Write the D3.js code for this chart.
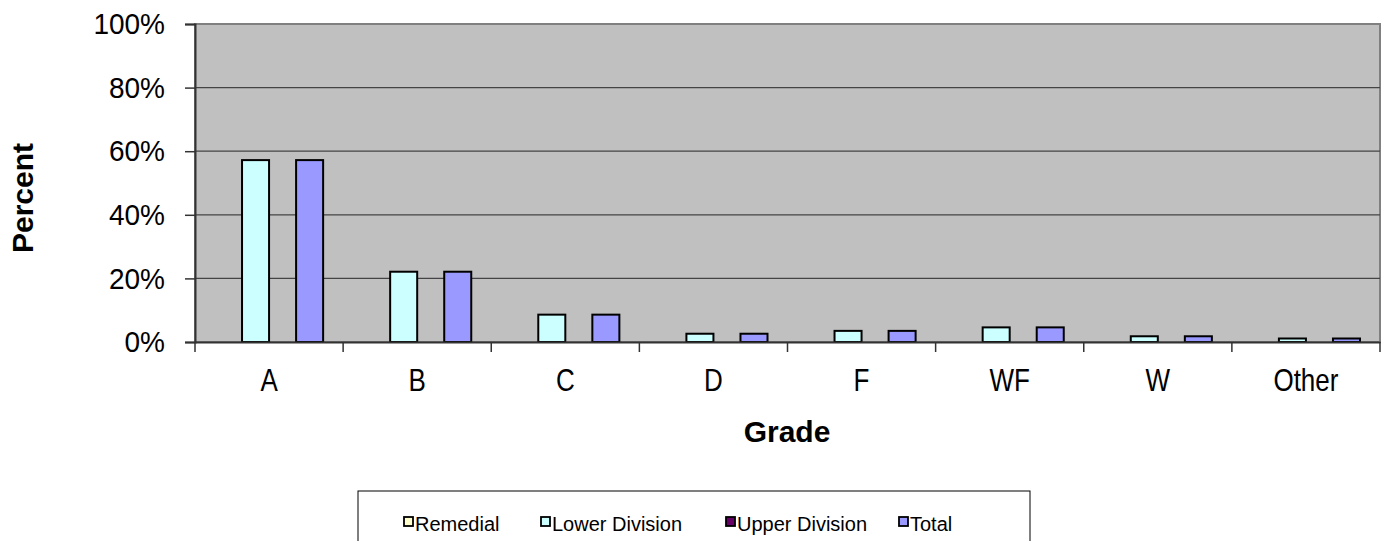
<!DOCTYPE html>
<html>
<head>
<meta charset="utf-8">
<script src="https://cdn.jsdelivr.net/npm/d3@7"></script>
<style>
  html, body { margin: 0; padding: 0; background: #fff; }
  svg text { font-family: "Liberation Sans", Arial, sans-serif; fill: #000; }
</style>
</head>
<body>
<svg id="chart"></svg>
<script>
// Grades on the x axis
const grades = ["A", "B", "C", "D", "F", "WF", "W", "Other"];
// Series (percent of students by grade)
const seriesNames = ["Remedial", "Lower Division", "Upper Division", "Total"];
const remedial = [0, 0, 0, 0, 0, 0, 0, 0];
const lowerDivision = [57.2, 22.1, 8.6, 2.6, 3.5, 4.6, 1.8, 1.1];
const upperDivision = [0, 0, 0, 0, 0, 0, 0, 0];
const total = [57.2, 22.1, 8.6, 2.6, 3.5, 4.6, 1.8, 1.1];
const yTicks = [0, 20, 40, 60, 80, 100];

const seriesColors = {
    "Remedial": "#ffffcc",
    "Lower Division": "#ccffff",
    "Upper Division": "#660066",
    "Total": "#9999ff"
};

const width = 1382;
const height = 541;
const plot = { left: 195, right: 1380, top: 24, bottom: 342 };

const svg = d3.select("#chart").attr("width", width).attr("height", height);

const x = d3.scaleBand().domain(grades).range([plot.left, plot.right]);
const xInner = d3.scaleBand().domain(seriesNames).range([0, x.bandwidth()]).paddingOuter(0.74);
const y = d3.scaleLinear().domain([0, 100]).range([plot.bottom, plot.top]);

// plot background
svg.append("rect")
    .attr("x", plot.left).attr("y", plot.top)
    .attr("width", plot.right - plot.left).attr("height", plot.bottom - plot.top)
    .attr("fill", "#c0c0c0")
    .attr("stroke", "#808080").attr("stroke-width", 2);

// gridlines
svg.append("g")
    .selectAll("line")
    .data(yTicks.filter(d => d > 0 && d < 100))
    .join("line")
    .attr("x1", plot.left).attr("x2", plot.right)
    .attr("y1", d => y(d)).attr("y2", d => y(d))
    .attr("stroke", "#444").attr("stroke-width", 1.2);

// bars
const rows = grades.map((g, i) => ({
    grade: g,
    values: [
        { name: "Remedial", v: remedial[i] },
        { name: "Lower Division", v: lowerDivision[i] },
        { name: "Upper Division", v: upperDivision[i] },
        { name: "Total", v: total[i] }
    ]
}));

svg.append("g")
    .selectAll("g")
    .data(rows)
    .join("g")
    .attr("transform", d => `translate(${x(d.grade)},0)`)
    .selectAll("rect")
    .data(d => d.values.filter(s => s.v > 0))
    .join("rect")
    .attr("x", d => xInner(d.name))
    .attr("y", d => y(d.v))
    .attr("width", xInner.bandwidth())
    .attr("height", d => y(0) - y(d.v))
    .attr("fill", d => seriesColors[d.name])
    .attr("stroke", "#000").attr("stroke-width", 2);

// y axis
const yAxis = svg.append("g")
    .attr("transform", `translate(${plot.left},0)`)
    .call(d3.axisLeft(y).tickValues(yTicks).tickFormat(d => d + "%").tickSize(10).tickPadding(20));
yAxis.select(".domain").attr("stroke", "#333").attr("stroke-width", 2);
yAxis.selectAll(".tick line").attr("stroke", "#333").attr("stroke-width", 1.5);
yAxis.selectAll(".tick text")
    .attr("font-size", 28)
    .attr("font-family", "Liberation Sans, Arial, sans-serif")
    .attr("transform", "scale(1,1.08)")
    .attr("y", 0);

// x axis (labels a little taller than wide, as in the original)
const xAxis = svg.append("g")
    .attr("transform", `translate(0,${plot.bottom})`)
    .call(d3.axisBottom(x).tickSize(0));
xAxis.select(".domain").attr("stroke", "#333").attr("stroke-width", 2);
xAxis.selectAll(".tick text")
    .attr("font-size", 26)
    .attr("font-family", "Liberation Sans, Arial, sans-serif")
    .attr("y", 22)
    .attr("transform", "scale(1,1.22)");

// x tick marks between categories
svg.append("g")
    .selectAll("line")
    .data(grades.map(g => x(g)).concat([plot.right]))
    .join("line")
    .attr("x1", d => d).attr("x2", d => d)
    .attr("y1", plot.bottom).attr("y2", plot.bottom + 10)
    .attr("stroke", "#333").attr("stroke-width", 1.5);

// axis titles
svg.append("text")
    .attr("x", 787).attr("y", 442)
    .attr("text-anchor", "middle")
    .attr("font-size", 30).attr("font-weight", "bold")
    .text("Grade");

svg.append("text")
    .attr("transform", `translate(33,198) rotate(-90)`)
    .attr("text-anchor", "middle")
    .attr("font-size", 30).attr("font-weight", "bold")
    .text("Percent");

// legend
const legendBox = { x: 358, y: 491, w: 672, h: 60 };
svg.append("rect")
    .attr("x", legendBox.x).attr("y", legendBox.y)
    .attr("width", legendBox.w).attr("height", legendBox.h)
    .attr("fill", "#fff").attr("stroke", "#000").attr("stroke-width", 1);

const legendX = [404, 541, 726, 899];
const legend = svg.append("g")
    .selectAll("g")
    .data(seriesNames)
    .join("g")
    .attr("transform", (d, i) => `translate(${legendX[i]},${legendBox.y + 26})`);

legend.append("rect")
    .attr("x", 0).attr("y", 0)
    .attr("width", 9).attr("height", 9)
    .attr("fill", d => seriesColors[d])
    .attr("stroke", "#000").attr("stroke-width", 1.8);

legend.append("text")
    .attr("x", 11).attr("y", 7)
    .attr("dy", ".35em")
    .attr("font-size", 20)
    .text(d => d);
</script>
</body>
</html>
